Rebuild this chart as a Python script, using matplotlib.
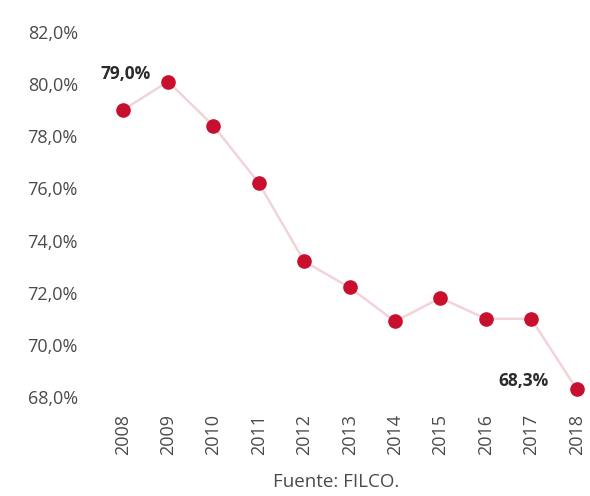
import matplotlib.pyplot as plt
from matplotlib.ticker import FuncFormatter

# Share of workers (FILCO), 2008-2018
years = ["2008", "2009", "2010", "2011", "2012", "2013",
         "2014", "2015", "2016", "2017", "2018"]
values = [79.0, 80.1, 78.4, 76.2, 73.2, 72.2, 70.9, 71.8, 71.0, 71.0, 68.3]

LINE_COLOR = "#f2d3d9"
DOT_COLOR = "#c8102e"
TEXT_COLOR = "#4a4a4a"

plt.rcParams["font.family"] = ["Open Sans", "DejaVu Sans"]

fig = plt.figure(figsize=(5.9, 4.96), dpi=100)
ax = fig.add_axes([100 / 590, 1 - 397 / 496, 488 / 590, 365 / 496])

x = list(range(len(years)))
ax.plot(x, values, color=LINE_COLOR, linewidth=1.8, zorder=1)
ax.plot(x, values, linestyle="none", marker="o", markersize=9.5,
        color=DOT_COLOR, markeredgecolor=DOT_COLOR, clip_on=False, zorder=2)

ax.set_ylim(68, 82)
ax.set_xlim(-0.5, 10.25)
ax.set_yticks([68, 70, 72, 74, 76, 78, 80, 82])
ax.yaxis.set_major_formatter(
    FuncFormatter(lambda v, _: f"{v:.1f}%".replace(".", ",")))
ax.set_xticks(x)
ax.set_xticklabels(years, rotation=90)

for side in ["top", "right", "left", "bottom"]:
    ax.spines[side].set_visible(False)
ax.tick_params(axis="both", length=0, labelsize=13, colors=TEXT_COLOR)
ax.tick_params(axis="y", pad=16)
ax.tick_params(axis="x", pad=12)

def pct(v):
    return f"{v:.1f}%".replace(".", ",")

ax.annotate(pct(values[0]), (x[0], values[0]), xytext=(2, 26),
            textcoords="offset points", ha="center", va="center",
            fontsize=12.5, fontweight="bold", color="#2b2b2b")
ax.annotate(pct(values[-1]), (x[-1], values[-1]), xytext=(-38, 6),
            textcoords="offset points", ha="center", va="center",
            fontsize=12.5, fontweight="bold", color="#2b2b2b")

fig.text(336 / 590, 1 - 482 / 496, "Fuente: FILCO.", ha="center",
         va="center", fontsize=13.5, color=TEXT_COLOR)

fig.savefig("out.png", dpi=100)
